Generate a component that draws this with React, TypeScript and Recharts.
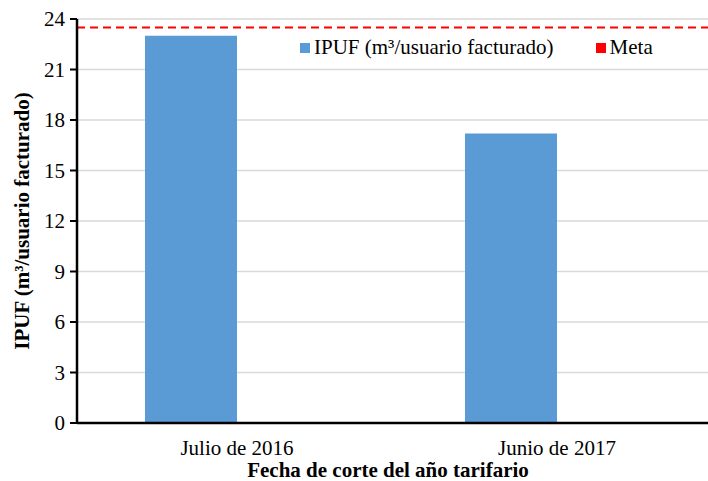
import React from 'react';
import { BarChart, Bar, XAxis, YAxis, CartesianGrid, ReferenceLine } from 'recharts';

const categories = ['Julio de 2016', 'Junio de 2017'];
const ipuf = [23.0, 17.2];
const meta = 23.5;
const yTicks = [0, 3, 6, 9, 12, 15, 18, 21, 24];

const seriesNames = ['IPUF (m³/usuario facturado)', 'Meta'];
const seriesColors = ['#5b9bd5', '#ff0000'];

const data = categories.map((name, i) => ({ name, ipuf: ipuf[i], meta: null }));

const font = '"Liberation Serif", "Times New Roman", serif';

const App = () => {
  return (
    <div style={{ position: 'absolute', left: 0, top: 0, width: 708, height: 481, overflow: 'hidden', background: '#fff' }}>
      <BarChart
        width={720}
        height={481}
        data={data}
        margin={{ top: 19, right: 3, bottom: 0, left: 0 }}
        barCategoryGap={68}
        barGap={0}
      >
        <CartesianGrid vertical={false} stroke="#d9d9d9" strokeWidth={1.5} />
        <XAxis
          dataKey="name"
          height={58}
          axisLine={{ stroke: '#000', strokeWidth: 2.5 }}
          tickLine={false}
          tickMargin={11}
          tick={{ fontFamily: font, fontSize: 21, fill: '#000' }}
          label={{ value: 'Fecha de corte del año tarifario', position: 'insideBottom', offset: 4, dx: -9, style: { fontFamily: font, fontSize: 21, fontWeight: 'bold', fill: '#000' } }}
        />
        <YAxis
          width={77}
          domain={[0, 24]}
          ticks={yTicks}
          interval={0}
          axisLine={{ stroke: '#000', strokeWidth: 2.5 }}
          tickLine={{ stroke: '#000', strokeWidth: 2 }}
          tickSize={7}
          tickMargin={5}
          tick={{ fontFamily: font, fontSize: 21, fill: '#000' }}
          label={{ value: 'IPUF  (m³/usuario facturado)', angle: -90, position: 'insideLeft', offset: 22, style: { textAnchor: 'middle', fontFamily: font, fontSize: 21, fontWeight: 'bold', fill: '#000' } }}
        />
        <Bar dataKey="ipuf" name={seriesNames[0]} fill={seriesColors[0]} isAnimationActive={false} />
        <Bar dataKey="meta" name={seriesNames[1]} fill={seriesColors[1]} isAnimationActive={false} />
        <ReferenceLine y={meta} stroke="#ff0000" strokeWidth={2} strokeDasharray="8 5" />
      </BarChart>

      {/* legend overlay */}
      <div style={{ position: 'absolute', top: 35, left: 300, display: 'flex', gap: 42, fontFamily: font, fontSize: 21, color: '#000', whiteSpace: 'nowrap' }}>
        {seriesNames.map((name, i) => (
          <div key={`leg-${i}`} style={{ display: 'flex', alignItems: 'center', gap: 4 }}>
            <div style={{ width: 10, height: 10, backgroundColor: seriesColors[i] }}></div>
            <span>{name}</span>
          </div>
        ))}
      </div>
    </div>
  );
};

export default App;
